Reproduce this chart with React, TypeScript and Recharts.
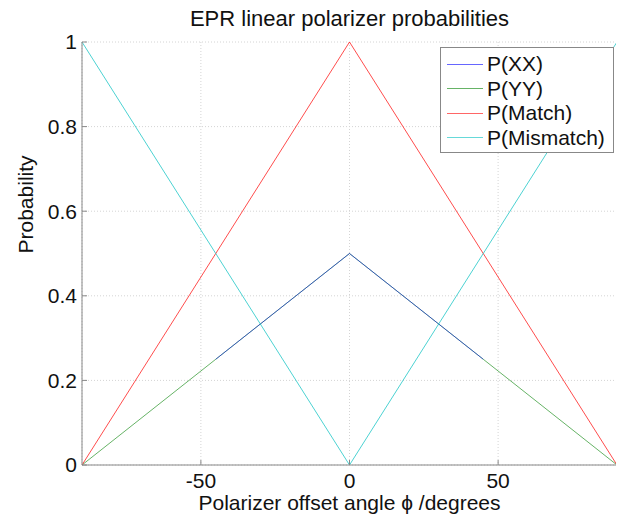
import React from 'react';
import { LineChart, Line, XAxis, YAxis, CartesianGrid } from 'recharts';

const angles = [-90, -45, 0, 45, 90];
const pXX = [null, 0.25, 0.5, 0.25, null];
const pYY = [0, 0.25, 0.5, 0.25, 0];
const pMatch = [0, 0.5, 1, 0.5, 0];
const pMismatch = [1, 0.5, 0, 0.5, 1];

const xTicks = [-50, 0, 50];
const yTicks = [0, 0.2, 0.4, 0.6, 0.8, 1];

const series = [
  { key: 'xx', name: 'P(XX)', color: '#0000ff' },
  { key: 'yy', name: 'P(YY)', color: '#008000' },
  { key: 'match', name: 'P(Match)', color: '#ff0000' },
  { key: 'mismatch', name: 'P(Mismatch)', color: '#00bfbf' },
];

const data = angles.map((a, i) => ({
  phi: a,
  xx: pXX[i],
  yy: pYY[i],
  match: pMatch[i],
  mismatch: pMismatch[i],
}));

const FONT = 'Arial, "Liberation Sans", sans-serif';
const AXIS = '#888';
const TXT = '#111';
const FS = 21;

const LegendBox = () => (
  <div
    style={{
      position: 'absolute',
      left: 432,
      top: 39,
      border: '1px solid #888',
      background: '#fff',
      width: 174,
      height: 106,
      boxSizing: 'border-box',
      padding: '4px 0 0 6px',
      fontFamily: FONT,
      fontSize: FS,
      color: TXT,
    }}
  >
    {series.map((s) => (
      <div key={s.key} style={{ display: 'flex', alignItems: 'center', height: 24.5 }}>
        <span style={{ display: 'inline-block', width: 36, height: 1, background: s.color, opacity: 0.6, marginRight: 4 }} />
        <span style={{ lineHeight: '24px' }}>{s.name}</span>
      </div>
    ))}
  </div>
);

export default function App() {
  return (
    <div style={{ position: 'relative', width: 616, height: 508, fontFamily: FONT }}>
      <div
        style={{
          position: 'absolute',
          top: 0,
          left: 74,
          width: 535,
          textAlign: 'center',
          fontSize: 22,
          lineHeight: '22px',
          color: TXT,
        }}
      >
        EPR linear polarizer probabilities
      </div>
      <LineChart width={616} height={508} data={data} margin={{ top: 34, right: 7, bottom: 0, left: 0 }}>
        <CartesianGrid stroke="#d4d4d4" strokeDasharray="1 2" />
        <XAxis
          dataKey="phi"
          type="number"
          domain={[-90, 90]}
          ticks={xTicks}
          height={51}
          stroke={AXIS}
          tickSize={-5}
          tickMargin={13}
          tick={{ fill: TXT, fontSize: FS, fontFamily: FONT }}
          label={{ value: 'Polarizer offset angle \u03d5 /degrees', position: 'insideBottom', offset: 6, fill: TXT, fontSize: FS, fontFamily: FONT }}
        />
        <XAxis xAxisId="top" orientation="top" dataKey="phi" type="number" domain={[-90, 90]} ticks={xTicks} height={0} stroke={AXIS} tickSize={-5} tick={false} />
        <YAxis
          type="number"
          domain={[0, 1]}
          ticks={yTicks}
          width={74}
          stroke={AXIS}
          tickSize={-5}
          tickMargin={10}
          tick={{ fill: TXT, fontSize: FS, fontFamily: FONT }}
          label={{ value: 'Probability', angle: -90, position: 'insideLeft', offset: 18, fill: TXT, fontSize: FS, fontFamily: FONT }}
        />
        <YAxis yAxisId="right" orientation="right" type="number" domain={[0, 1]} ticks={yTicks} width={0} stroke={AXIS} tickSize={-5} tick={false} />
        <Line dataKey="yy" name="P(YY)" stroke="#008000" strokeWidth={1} strokeOpacity={0.6} dot={false} isAnimationActive={false} />
        <Line dataKey="xx" name="P(XX)" stroke="#0000ff" strokeWidth={1} strokeOpacity={0.5} dot={false} isAnimationActive={false} />
        <Line dataKey="match" name="P(Match)" stroke="#ff0000" strokeWidth={1} strokeOpacity={0.7} dot={false} isAnimationActive={false} />
        <Line dataKey="mismatch" name="P(Mismatch)" stroke="#00bfbf" strokeWidth={1} strokeOpacity={0.7} dot={false} isAnimationActive={false} />
      </LineChart>
      <LegendBox />
    </div>
  );
}
